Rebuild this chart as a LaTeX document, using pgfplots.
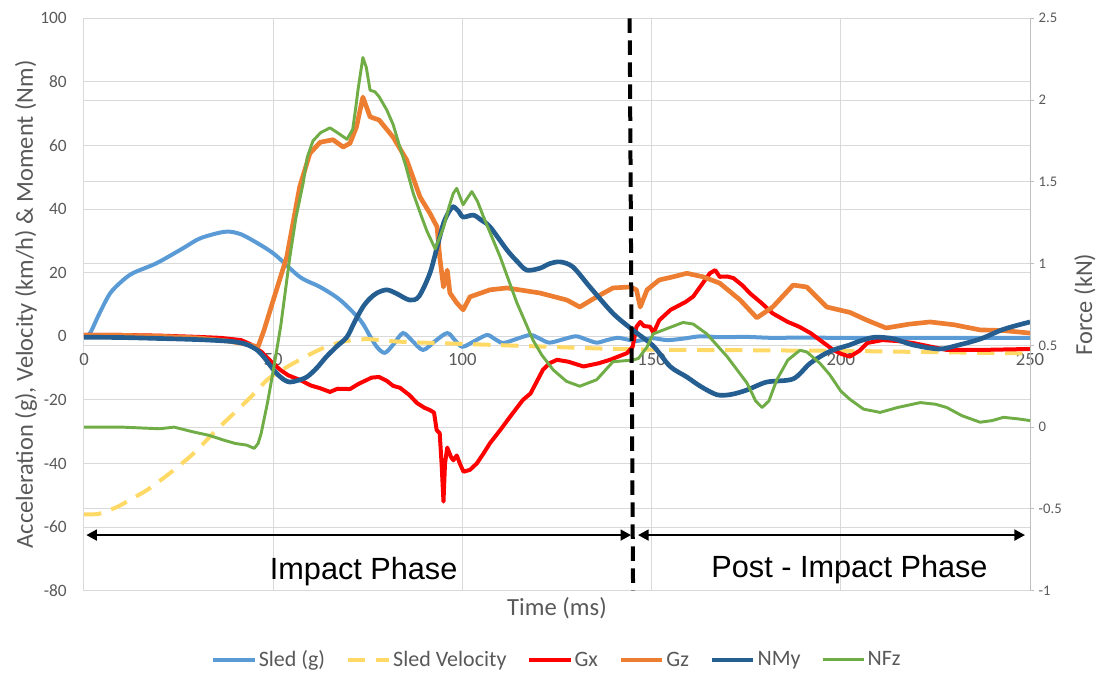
\documentclass[border=0pt]{standalone}
\usepackage{fontspec}
\setmainfont{Carlito}
\newfontfamily\arialfont{Liberation Sans}
\usepackage{pgfplots}
\pgfplotsset{compat=1.18}
\usetikzlibrary{arrows.meta}
\definecolor{cSled}{HTML}{5B9BD5}
\definecolor{cVel}{HTML}{FFD966}
\definecolor{cGx}{HTML}{FF0000}
\definecolor{cGz}{HTML}{ED7D31}
\definecolor{cNMy}{HTML}{255E91}
\definecolor{cNFz}{HTML}{70AD47}
\definecolor{cGrid}{HTML}{D9D9D9}
\definecolor{cTxt}{HTML}{595959}
\definecolor{cAx}{HTML}{BFBFBF}
\begin{document}
\begin{tikzpicture}
\begin{axis}[
  name=main,
  scale only axis, width=709.5pt, height=429.3pt,
  xmin=0, xmax=250, ymin=-80, ymax=100,
  xtick={0,50,100,150,200,250},
  ytick={-80,-60,-40,-20,0,20,40,60,80,100},
  extra y ticks={-54.2857,-28.5714,-2.8571,22.8571,48.5714,74.2857},
  extra y tick labels={},
  extra y tick style={grid=major},
  grid=major, grid style={cGrid, line width=0.75pt},
  axis line style={draw=none},
  major tick length=0pt,
  /pgf/number format/assume math mode=true,
  yticklabel style={font=\fontsize{13}{15}\selectfont, text=cTxt, xshift=-9.4pt},
  xticklabel style={font=\fontsize{14}{16}\selectfont, text=cTxt, yshift=181.4pt},
  xlabel={Time (ms)},
  xlabel style={at={(axis description cs:0.5,0)}, anchor=center, yshift=-13pt, font=\fontsize{18.5}{21}\selectfont, text=cTxt},
  ylabel={Acceleration (g), Velocity (km/h) \& Moment (Nm)},
  ylabel style={at={(axis description cs:-0.0613,0.5)}, anchor=center, font=\fontsize{18.3}{21}\selectfont, text=cTxt},
  legend columns=6,
  legend style={at={(0.5,-0.121)}, anchor=center, draw=none, fill=none,
    font=\fontsize{16.5}{19}\selectfont,
    nodes={inner xsep=1.5pt, text=cTxt},
    /tikz/every even column/.append style={column sep=14pt}},
  legend image code/.code={\draw[#1] (0pt,0pt) -- (31pt,0pt);},
]
% Sled (g)
\addplot[cSled, line width=3pt, smooth, tension=0.5] coordinates {
(0,0) (1.6,1) (4,7) (6.9,13.5) (10,17.3) (13,19.9) (19.2,23) (26.2,27.7) (30.7,30.8) (36.8,32.8) (40,32.6) (43,31.2) (50,26.1) (57,18.7) (62.4,15.5) (67.7,11.4) (73,5.1) (75.6,0) (77.5,-3.5) (79.5,-5.2) (81.8,-2.5) (84.3,1) (86.8,-1.5) (89.6,-4.3) (92.8,-1.5) (96,1) (98,-1.2) (100,-3.3) (103.2,-1.5) (106.5,0.4) (108.6,-0.9) (110.8,-2.1) (114.4,-0.8) (118,0.4) (120.5,-0.8) (123,-2) (126.5,-1) (130,0) (132.7,-1) (135.5,-2) (138.2,-1.2) (141,-0.5) (143.5,-1) (146,-1.5) (150,-0.6) (154,-1.2) (158,-0.8) (163,0) (168,-0.3) (175,-0.2) (182,-0.5) (190,-0.4) (200,-0.5) (220,-0.5) (250,-0.5)
};
\addlegendentry{Sled (g)}
% Sled Velocity
\addplot[cVel, line width=3pt, dash pattern=on 13pt off 8pt, smooth, tension=0.5] coordinates {
(0,-56) (4,-55.8) (8.7,-53.7) (12.5,-51.2) (16.6,-48.4) (20,-45.5) (23.8,-42) (29,-36.8) (35,-29.5) (41.4,-22.2) (45,-18) (48.4,-13.7) (52,-10.8) (57,-7.4) (60.5,-5.2) (64,-3.3) (67.5,-2) (71,-1.2) (75,-0.9) (79,-1.3) (85,-1.8) (100,-2.4) (120,-3.2) (135,-3.8) (150,-4.2) (175,-4.4) (200,-4.6) (225,-5) (250,-5.4)
};
\addlegendentry{Sled Velocity}
% Gx
\addplot[cGx, line width=3pt, line join=round] coordinates {
(0,0.4) (10,0.4) (20,0.2) (30,-0.2) (36,-0.5) (41.5,-1.2) (44,-2.5) (47,-5) (49.5,-8) (51.8,-10.5) (54,-12.3) (57,-13.7) (60,-15.5) (62.3,-16.3) (65,-17.5) (67,-16.5) (70.3,-16.6) (72.5,-15) (74.8,-13.7) (76,-13) (78,-12.8) (80,-14) (81.7,-15.6) (83.5,-16.2) (86,-18.5) (88,-21) (90,-22.5) (91.4,-23.2) (92.5,-24) (93.2,-29.5) (94,-30.5) (94.5,-40) (95,-52) (95.4,-40) (96,-35) (97,-38) (97.6,-39) (98.5,-37.5) (99.5,-40.5) (100.3,-42.6) (102,-42) (103.8,-40) (105.5,-37) (107.3,-33.6) (110,-29.5) (112.6,-25.3) (116,-20) (118,-18) (121.3,-10.5) (123,-8.5) (125,-7.4) (128,-8) (132,-9.5) (136,-8.5) (139,-7.4) (143.5,-5.3) (145,-3.3) (146,3) (147,4.5) (148,3.2) (149.6,3) (150.5,1) (152,5) (155,8.3) (159,10.8) (161,12.5) (162.8,15.5) (165.4,19.8) (166.8,20.8) (168,18.7) (170,18.8) (171.6,18.3) (174,16) (176,13.5) (179,10.5) (182,7.2) (186,4.5) (189,3) (192,1) (194.5,-1.2) (198,-4.3) (200,-5.5) (202.4,-6.4) (205,-4.5) (207,-2.1) (211,-1.2) (215,-1.5) (219,-2.1) (228,-4.3) (237,-4.3) (250,-4)
};
\addlegendentry{Gx}
% Gz
\addplot[cGz, line width=3.5pt, line join=round] coordinates {
(0,0.3) (10,0.3) (20,0) (30,-0.5) (38,-1.5) (42,-2.3) (46,-3.3) (47.6,2) (50,11.3) (53.6,25) (57,47) (59.7,57.5) (62.4,61) (65.8,61.8) (68.5,59.5) (70.3,60.7) (72,65.8) (73.7,75.2) (75.6,69) (78,68) (81.7,62.6) (85.3,55.4) (88.8,43.8) (91.4,38.7) (93.3,34.4) (94,25) (95,15.5) (96,20.8) (96.7,13.6) (98.5,10.5) (100.2,8.3) (102,12.4) (107.3,14.6) (111.8,15.2) (120.5,13.6) (127.6,11.4) (131,9.2) (135.5,12.4) (139.8,15.2) (144.3,15.5) (146,14.6) (147,9.2) (148.8,14.6) (152,17.7) (155.7,18.7) (159.3,19.8) (163.6,18.7) (168,16.7) (173.4,11.4) (177.8,5.8) (182,9.2) (187.4,16.1) (191,15.5) (196.3,9.2) (202.4,7.5) (207,5) (212,2.6) (218,3.8) (223.6,4.5) (230,3.6) (236.8,2) (243,1.8) (250,1)
};
\addlegendentry{Gz}
% NMy
\addplot[cNMy, line width=3.5pt, smooth, tension=0.5] coordinates {
(0,-0.3) (10,-0.4) (20,-0.7) (26.4,-0.9) (33,-1.2) (39.6,-1.7) (43,-2.6) (45.7,-4.3) (47.5,-6.5) (49.4,-9.5) (51,-11.8) (52.9,-13.7) (54.4,-14.4) (56.5,-13.9) (58.9,-12.8) (61.5,-10) (64,-6.5) (66.8,-3.2) (69.5,-0.2) (71.5,4.5) (73.7,9.2) (75.5,11.8) (77.4,13.6) (80,14.6) (82.5,13.5) (86,11.4) (88.5,12.5) (91.4,19.8) (93.3,28) (95,35.5) (96.5,39.3) (97.6,40.7) (99,39.3) (100.2,37.5) (102.9,38.1) (105,36.5) (107.3,34.4) (111.8,27.1) (114.5,23.5) (117,20.8) (120.5,21.4) (123,22.8) (125.8,23.4) (129.2,21.8) (133.7,15.5) (139.8,7.2) (145,2) (150.4,-3) (154.9,-9.5) (159.3,-12.8) (163,-15.8) (167.3,-18.4) (171,-18.3) (175.2,-16.9) (180.4,-14.4) (187.4,-13.4) (191.9,-8.5) (197,-4.8) (202.4,-2.7) (205,-1.5) (209,-0.3) (214,-0.8) (219,-2.7) (226,-4) (231,-2.8) (237,-0.8) (243,2.2) (250,4.5)
};
\addlegendentry{NMy}
\addlegendimage{cNFz, line width=2.2pt}
\addlegendentry{NFz}
\end{axis}
\begin{axis}[
  scale only axis, width=709.5pt, height=429.3pt,
  xmin=0, xmax=250, ymin=-1, ymax=2.5,
  axis x line=none, axis y line*=right,
  ytick={-1,-0.5,0,0.5,1,1.5,2,2.5},
  axis line style={cAx, line width=0.75pt},
  tick style={cAx, line width=0.75pt},
  tick align=outside, major tick length=3pt,
  /pgf/number format/assume math mode=true,
  yticklabel style={font=\fontsize{11}{13}\selectfont, text=cTxt},
  ylabel={Force (kN)},
  ylabel style={at={(axis description cs:1.058,0.5)}, anchor=center, font=\fontsize{18.3}{21}\selectfont, text=cTxt},
  clip=false,
]
\addplot[cNFz, line width=2.2pt, line join=round] coordinates {
(0,0) (10,0) (20,-0.01) (23.8,0) (29,-0.03) (33,-0.05) (37,-0.08) (40,-0.1) (43,-0.11) (45,-0.13) (46,-0.1) (46.8,-0.04) (48.5,0.15) (50.2,0.37) (52,0.62) (54.4,1.04) (56,1.28) (57.9,1.49) (59,1.65) (60.5,1.75) (62.5,1.8) (65,1.83) (67,1.8) (69.5,1.76) (71,1.82) (71.8,1.95) (72.4,2.06) (73.7,2.26) (74.6,2.2) (75.6,2.06) (76.9,2.05) (78,2.02) (80,1.94) (81.7,1.85) (83.5,1.71) (85,1.6) (87,1.43) (89,1.3) (90.6,1.2) (92.8,1.09) (95,1.22) (96.5,1.35) (97.6,1.43) (98.5,1.46) (99.5,1.4) (100.2,1.36) (101.3,1.4) (102.5,1.44) (104,1.38) (105.5,1.29) (110,1.04) (114.4,0.76) (118.7,0.53) (121,0.44) (124,0.35) (127.5,0.28) (131,0.25) (135.5,0.29) (139.8,0.4) (145,0.41) (146.5,0.42) (148.8,0.49) (150.4,0.57) (154.9,0.61) (158.3,0.64) (161,0.63) (164.6,0.57) (170,0.43) (175.2,0.27) (177.5,0.16) (179.2,0.12) (181,0.16) (183.1,0.29) (186,0.41) (189.2,0.47) (191,0.46) (194.5,0.39) (197.1,0.32) (200,0.22) (202.4,0.17) (206,0.11) (210.4,0.09) (215,0.12) (221,0.15) (225,0.14) (228,0.12) (232,0.07) (236.8,0.03) (240,0.04) (243,0.06) (247,0.05) (250,0.04)
};
% phase annotations
\draw[black, line width=3pt, dash pattern=on 11pt off 5.5pt] (axis cs:144.2,2.5) -- (axis cs:145.1,-1);
\draw[black, line width=2pt, {Triangle[length=8pt,width=8pt]}-{Triangle[length=8pt,width=8pt]}] (axis cs:0.6,-0.66) -- (axis cs:144.6,-0.66);
\draw[black, line width=2pt, {Triangle[length=8pt,width=8pt]}-{Triangle[length=8pt,width=8pt]}] (axis cs:146.4,-0.66) -- (axis cs:248.7,-0.66);
\node[anchor=base, font=\arialfont\fontsize{23}{27}\selectfont, inner sep=0pt] at (axis cs:73.9,-0.93) {Impact Phase};
\node[anchor=base, font=\arialfont\fontsize{23}{27}\selectfont, inner sep=0pt] at (axis cs:202.3,-0.92) {Post - Impact Phase};
\end{axis}
\pgfresetboundingbox
\path ([shift={(-63pt,-63.2pt)}]main.south west) rectangle ([shift={(54pt,13.7pt)}]main.north east);
\end{tikzpicture}
\end{document}
